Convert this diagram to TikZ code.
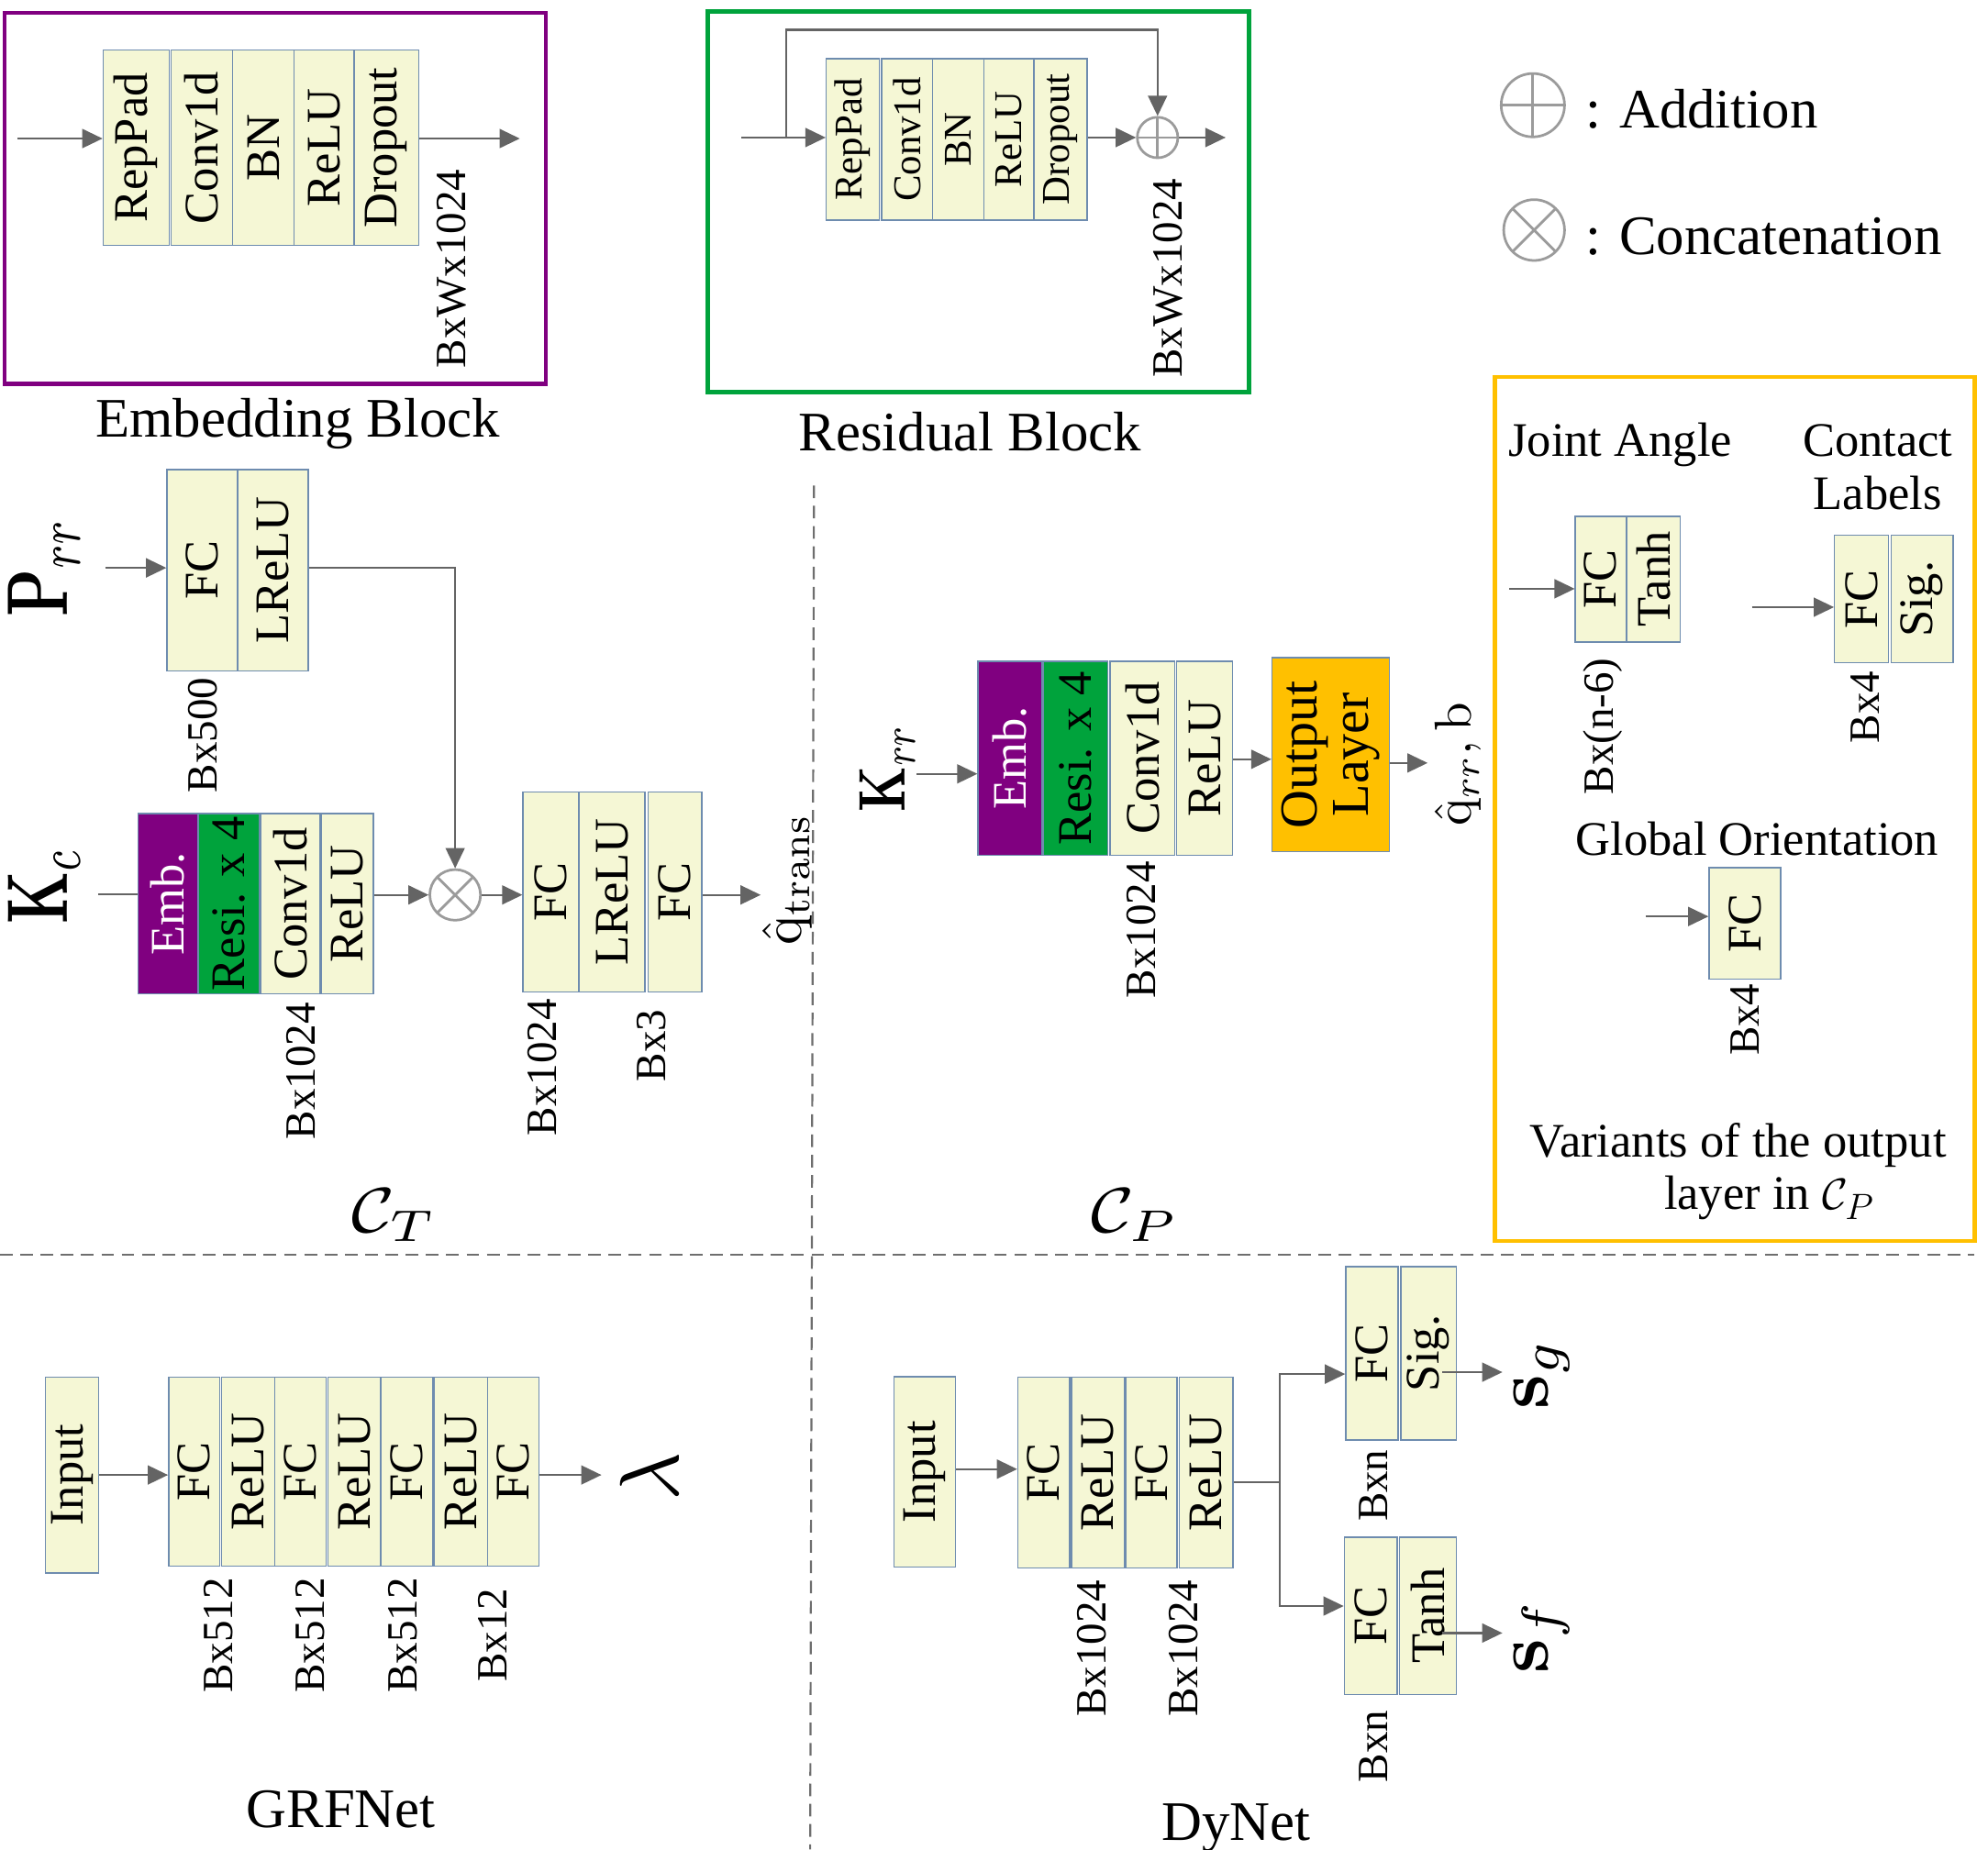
\documentclass[tikz,border=0pt]{standalone}
\usepackage[no-math]{fontspec}
\setmainfont{Liberation Serif}
\usepackage{graphicx}
\usetikzlibrary{arrows.meta}
\definecolor{blkfill}{RGB}{245,247,213}
\definecolor{blkdraw}{RGB}{110,140,175}
\definecolor{arrgray}{RGB}{100,100,100}
\definecolor{symgray}{RGB}{155,155,155}
\definecolor{embpurple}{RGB}{128,0,128}
\definecolor{resgreen}{RGB}{0,163,60}
\definecolor{outorange}{RGB}{255,192,0}
\definecolor{dashgray}{RGB}{110,110,110}
\newcommand\fsblk{\fontsize{19}{21}\selectfont}
\newcommand\fsres{\fontsize{15.5}{18}\selectfont}
\newcommand\fsdim{\fontsize{17}{19}\selectfont}
\newcommand\fstitle{\fontsize{22}{24}\selectfont}
\newcommand\fsbox{\fontsize{19}{21}\selectfont}
\newcommand\blk[7][]{%
  \node[box,#1,minimum width={(#4-#3)*0.5pt},minimum height={(#6-#5)*0.5pt}] (#2) at ({(#3+#4)/2},{(#5+#6)/2}) {\rotatebox{90}{#7}};}
\newcommand\dimlbl[4][]{%
  \node[dimtxt,#1] (#2) at (#3) {\rotatebox{90}{#4}};}
\newcommand\mlbl[3]{\rotatebox{90}{\scalebox{#1}[#2]{#3}}}
\tikzset{
  box/.style={draw=blkdraw, fill=blkfill, line width=0.5pt, inner sep=0pt, font=\fsblk},
  resfont/.style={font=\fsres},
  embbox/.style={fill=embpurple, text=white},
  resbox/.style={fill=resgreen},
  outbox/.style={fill=outorange, font=\fontsize{21}{23}\selectfont},
  dimtxt/.style={inner sep=0pt, font=\fsdim},
  mathtxt/.style={inner sep=0pt, font=\fontsize{10}{12}\selectfont},
  arr/.style={draw=arrgray, line width=0.8pt, -{Triangle[length=8pt,width=7.5pt]}},
  plainline/.style={draw=arrgray, line width=0.8pt},
  addc/.style={circle, draw=symgray, line width=1pt, inner sep=0pt, fill=white,
    path picture={\draw[symgray, line width=1pt] (path picture bounding box.north) -- (path picture bounding box.south)
      (path picture bounding box.west) -- (path picture bounding box.east);}},
  catc/.style={circle, draw=symgray, line width=1pt, inner sep=0pt, fill=white,
    path picture={\draw[symgray, line width=1pt] (path picture bounding box.north west) -- (path picture bounding box.south east)
      (path picture bounding box.south west) -- (path picture bounding box.north east);}},
  ttl/.style={inner sep=0pt, font=\fstitle, anchor=base},
  bxt/.style={inner sep=0pt, font=\fsbox, anchor=base},
  legtxt/.style={inner sep=0pt, font=\fontsize{22}{24}\selectfont, anchor=base west},
  dashln/.style={draw=dashgray, line width=0.8pt, dash pattern=on 5pt off 3pt},
}
\begin{document}
\begin{tikzpicture}[x=0.5pt,y=-0.5pt]
\useasboundingbox (0,0) rectangle (1568,1459);

%% ---------------- Embedding block ----------------
\draw[embpurple, line width=1.6pt] (3.5,10.1) rectangle (430.7,302.7);
\blk{e1}{81.4}{133.3}{39.3}{193.7}{RepPad}
\blk{e2}{135}{183.4}{39.3}{193.7}{Conv1d}
\blk{e3}{183.4}{231.8}{39.3}{193.7}{BN}
\blk{e4}{231.8}{279.2}{39.3}{193.7}{ReLU}
\blk{e5}{279.2}{330.4}{39.3}{193.7}{Dropout}
\coordinate (ein) at (14,109.3);
\coordinate (eout) at (410,109.3);
\draw[arr] (ein) -- (ein -| e1.west);
\draw[arr] (eout -| e5.east) -- (eout);
\dimlbl{edim}{356,212}{BxWx1024}
\node[ttl] (etitle) at (235,345) {Embedding Block};

%% ---------------- Residual block ----------------
\draw[resgreen, line width=1.8pt] (558,9) rectangle (985,309);
\blk[resfont]{r1}{651.7}{693.7}{46.3}{173.7}{RepPad}
\blk[resfont]{r2}{695.4}{735.6}{46.3}{173.7}{Conv1d}
\blk[resfont]{r3}{735.6}{776}{46.3}{173.7}{BN}
\blk[resfont]{r4}{776}{815.5}{46.3}{173.7}{ReLU}
\blk[resfont]{r5}{815.5}{857.5}{46.3}{173.7}{Dropout}
\node[addc, minimum size=16pt] (radd) at (913,108.5) {};
\coordinate (rin) at (584.7,108.5);
\coordinate (rsplit) at (620.3,108.5);
\coordinate (rtop) at (620.3,23.6);
\coordinate (rout) at (966.7,108.5);
\draw[arr] (rin) -- (rin -| r1.west);
\draw[arr] (rsplit) -- (rtop) -- (rtop -| radd) -- (radd.north);
\draw[arr] (r5.east |- radd) -- (radd.west);
\draw[arr] (radd.east) -- (rout);
\dimlbl{rdim}{921,219.5}{BxWx1024}
\node[ttl] (rtitle) at (765,356) {Residual Block};

%% ---------------- Legend ----------------
\node[addc, minimum size=25pt] (laddsym) at (1209,83) {};
\node[legtxt] (laddtxt) at (1250,101) {: Addition};
\node[catc, minimum size=24pt] (lcatsym) at (1210,181.5) {};
\node[legtxt] (lcattxt) at (1250,201) {: Concatenation};

%% ---------------- C_T ----------------
\node[mathtxt] (prr) at (35,448) {\mlbl{2.4}{3.4}{$\mathbf{P}_{rr}$}};
\node[mathtxt] (kc) at (35,699) {\mlbl{2.3}{3.4}{$\mathbf{K}_{c}$}};
\blk{ct1}{131.7}{187}{370.4}{529.3}{FC}
\blk{ct2}{187.8}{243}{370.4}{529.3}{LReLU}
\node[catc, minimum size=20pt] (cat) at (359,706) {};
\coordinate (pin) at (83,448);
\draw[arr] (pin) -- (pin -| ct1.west);
\draw[arr] (ct2.east |- pin) -| (cat.north);
\blk[embbox]{ce1}{108.8}{156.2}{641.8}{784.2}{Emb.}
\blk[resbox]{ce2}{156.2}{204.4}{641.8}{784.2}{Resi. x 4}
\blk{ce3}{205.6}{252.6}{641.8}{784.2}{Conv1d}
\blk{ce4}{253.8}{294.5}{641.8}{784.2}{ReLU}
\coordinate (kcin) at (77.3,705.6);
\draw[plainline] (kcin) -- (kcin -| ce1.west);
\draw[arr] (ce4.east |- cat) -- (cat.west);
\blk{cf1}{412.5}{456}{625}{782.6}{FC}
\blk{cf2}{457}{508.8}{625}{782.6}{LReLU}
\blk{cf3}{511}{553.6}{625}{782.6}{FC}
\draw[arr] (cat.east) -- (cat -| cf1.west);
\coordinate (qt) at (600,706);
\draw[arr] (cf3.east |- qt) -- (qt);
\node[mathtxt] (qtrans) at (621,694) {\mlbl{2.2}{2.2}{$\hat{\mathrm{q}}_{\mathrm{trans}}$}};
\dimlbl{ctd1}{160,580}{Bx500}
\dimlbl{ctd2}{237.5,845}{Bx1024}
\dimlbl{ctd3}{428,842}{Bx1024}
\dimlbl{ctd4}{514,825}{Bx3}
\node[mathtxt, anchor=base] (ctlbl) at (311,972) {\scalebox{2.9}[2.5]{$\mathcal{C}_T$}};

%% ---------------- dashed separators ----------------
\coordinate (vtop) at (642,383);
\coordinate (vbot) at (639,1459);
\coordinate (hl) at (0,990);
\coordinate (hr) at (1557,990);
\draw[dashln] (vtop) -- (vbot);
\draw[dashln] (hl) -- (hr);

%% ---------------- C_P ----------------
\node[mathtxt] (krr) at (700,606) {\mlbl{2.0}{2.6}{$\mathbf{K}_{rr}$}};
\blk[embbox]{p1}{771.4}{822}{521.6}{674.6}{Emb.}
\blk[resbox]{p2}{822.6}{873.9}{521.6}{674.6}{Resi. x 4}
\blk{p3}{875.6}{926.5}{521.6}{674.6}{Conv1d}
\blk{p4}{928.2}{972}{521.6}{674.6}{ReLU}
\blk[outbox]{pout}{1003.3}{1096}{518.8}{671.8}{\begin{tabular}{@{}c@{}}Output\\[-3pt]Layer\end{tabular}}
\coordinate (krin) at (723,610.5);
\draw[arr] (krin) -- (krin -| p1.west);
\coordinate (pmid) at (985,599);
\draw[arr] (p4.east |- pmid) -- (pmid -| pout.west);
\coordinate (qrr) at (1126,601.9);
\draw[arr] (pout.east |- qrr) -- (qrr);
\node[mathtxt] (qrrlbl) at (1150,603) {\mlbl{2.05}{2.05}{$\hat{\mathrm{q}}_{rr},\mathrm{b}$}};
\dimlbl{pd1}{900.5,733.5}{Bx1024}
\node[mathtxt, anchor=base] (cplbl) at (895,972) {\scalebox{2.9}[2.5]{$\mathcal{C}_P$}};

%% ---------------- Output layer variants ----------------
\draw[outorange, line width=1.6pt] (1179,297.5) rectangle (1557.5,979);
\node[bxt] (jalbl) at (1278,360) {Joint Angle};
\blk{j1}{1242.5}{1282.5}{407.4}{506.5}{FC}
\blk{j2}{1283.3}{1325}{407.4}{506.5}{Tanh}
\coordinate (jin) at (1190.3,464.5);
\draw[arr] (jin) -- (jin -| j1.west);
\dimlbl{jd}{1264,573}{Bx(n-6)}
\node[bxt] (cl1) at (1481,360) {Contact};
\node[bxt] (cl2) at (1481,402) {Labels};
\blk{c1}{1447}{1489.5}{422.4}{523}{FC}
\blk{c2}{1491.5}{1540.6}{422.4}{523}{Sig.}
\coordinate (cin) at (1381.7,479);
\draw[arr] (cin) -- (cin -| c1.west);
\dimlbl{cd}{1471,558}{Bx4}
\node[bxt] (golbl) at (1386,675) {Global Orientation};
\blk{g1}{1348}{1404.5}{684.6}{772.5}{FC}
\coordinate (gin) at (1298,723);
\draw[arr] (gin) -- (gin -| g1.west);
\dimlbl{gd}{1376.6,804.5}{Bx4}
\node[bxt] (var1) at (1371,913) {Variants of the output};
\node[bxt] (var2) at (1395.5,954) {layer in $\mathcal{C}_P$};

%% ---------------- GRFNet ----------------
\blk{gi}{35.7}{78}{1086.4}{1241}{Input}
\blk{gr1}{133}{173.2}{1086.4}{1235.4}{FC}
\blk{gr2}{174.9}{216.9}{1086.4}{1235.4}{ReLU}
\blk{gr3}{216.9}{257.1}{1086.4}{1235.4}{FC}
\blk{gr4}{258.8}{300.3}{1086.4}{1235.4}{ReLU}
\blk{gr5}{300.3}{341.5}{1086.4}{1235.4}{FC}
\blk{gr6}{342.7}{384.7}{1086.4}{1235.4}{ReLU}
\blk{gr7}{384.7}{425}{1086.4}{1235.4}{FC}
\coordinate (gmid) at (100,1163.6);
\draw[arr] (gi.east |- gmid) -- (gmid -| gr1.west);
\coordinate (lam) at (474.4,1163.6);
\draw[arr] (gr7.east |- lam) -- (lam);
\node[mathtxt] (lamlbl) at (512,1165) {\mlbl{3.3}{3.3}{$\lambda$}};
\dimlbl{grd1}{172.4,1290}{Bx512}
\dimlbl{grd2}{245,1290}{Bx512}
\dimlbl{grd3}{317.8,1290}{Bx512}
\dimlbl{grd4}{388.4,1290}{Bx12}
\node[ttl] (grftitle) at (269,1442) {GRFNet};

%% ---------------- DyNet ----------------
\blk{di}{705.2}{753.8}{1086}{1236.3}{Input}
\blk{d1}{802.8}{843.6}{1086.4}{1236.9}{FC}
\blk{d2}{845.2}{887.1}{1086.4}{1236.9}{ReLU}
\blk{d3}{888}{928.3}{1086.4}{1236.9}{FC}
\blk{d4}{930}{972.4}{1086.4}{1236.9}{ReLU}
\coordinate (dmid) at (780,1159);
\draw[arr] (di.east |- dmid) -- (dmid -| d1.west);
\blk{t1}{1061.5}{1102.8}{999.2}{1136}{FC}
\blk{t2}{1104.8}{1148.8}{999.2}{1136}{Sig.}
\blk{b1}{1060.3}{1102}{1212.7}{1336.7}{FC}
\blk{b2}{1104}{1148.8}{1212.7}{1336.7}{Tanh}
\coordinate (dsplit) at (1009.3,1169.4);
\coordinate (dtop) at (1009.3,1084);
\coordinate (dbot) at (1009.3,1267);
\draw[plainline] (d4.east |- dsplit) -- (dsplit);
\draw[arr] (dsplit) -- (dtop) -- (dtop -| t1.west);
\draw[arr] (dsplit) -- (dbot) -- (dbot -| b1.west);
\coordinate (sg) at (1185,1082.5);
\coordinate (sf) at (1185,1288.3);
\draw[arr] (t2.east |- sg) ++(-11.6,0) -- (sg);
\draw[arr] (b2.east |- sf) ++(-11.6,0) -- (sf);
\node[mathtxt] (sglbl) at (1216,1084) {\mlbl{3}{3}{$\mathbf{s}_g$}};
\node[mathtxt] (sflbl) at (1216,1291) {\mlbl{3}{3}{$\mathbf{s}_f$}};
\dimlbl{dd1}{861,1300.5}{Bx1024}
\dimlbl{dd2}{933.5,1300.5}{Bx1024}
\dimlbl{dd3}{1083,1172}{Bxn}
\dimlbl{dd4}{1083,1377.7}{Bxn}
\node[ttl] (dytitle) at (975,1452) {DyNet};
\end{tikzpicture}
\end{document}
